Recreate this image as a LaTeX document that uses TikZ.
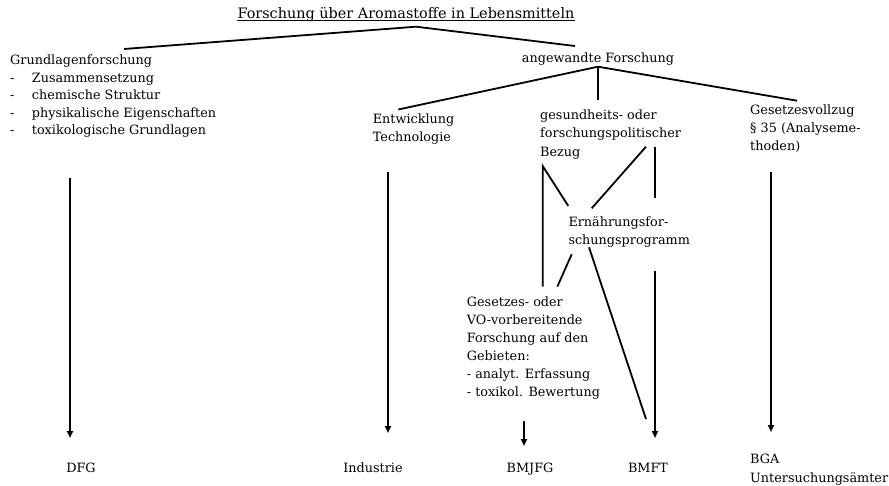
\documentclass[tikz,border=0pt]{standalone}
\usepackage{fontspec}
\setmainfont{DejaVu Serif}
\usetikzlibrary{arrows.meta,calc}
\begin{document}
\begin{tikzpicture}[x=1pt,y=-1pt,
  lbl/.style={anchor=base west,inner sep=0pt,align=left,font=\fontsize{12.8}{#1}\selectfont},
  lbl/.default=18,
  ctr/.style={anchor=base,inner sep=0pt,font=\fontsize{12.8}{18}\selectfont},
  conn/.style={line width=1.8pt},
  arr/.style={line width=1.8pt,-{Triangle[length=7pt,width=6pt]}}]
\useasboundingbox (0,0) rectangle (889,486);
% texts (multi-line nodes are placed at the baseline of their last line)
\node[ctr,font=\fontsize{14.4}{18}\selectfont] (title) at (406,18.3) {Forschung über Aromastoffe in Lebensmitteln};
\draw[line width=0.9pt] ($(title.base west)+(0,2.6)$) -- ($(title.base east)+(0,2.6)$);
\node[lbl=17.5] (grund) at (10,135) {Grundlagenforschung\\
  \makebox[21.7pt][l]{-}Zusammensetzung\\
  \makebox[21.7pt][l]{-}chemische Struktur\\
  \makebox[21.7pt][l]{-}physikalische Eigenschaften\\
  \makebox[21.7pt][l]{-}toxikologische Grundlagen};
\node[ctr] (angew) at (598,63) {angewandte Forschung};
\node[lbl] (entw) at (372.7,141.7) {Entwicklung\\Technologie};
\node[lbl=18.7] (gesund) at (540,156.7) {gesundheits- oder\\forschungspolitischer\\Bezug};
\node[lbl=18.3] (vollz) at (750,151) {Gesetzesvollzug\\§ 35 (Analyseme-\\thoden)};
\node[lbl=18.3] (ern) at (568.3,245) {Ernährungsfor-\\schungsprogramm};
\node[lbl] (vorb) at (466.7,396.7) {Gesetzes- oder\\VO-vorbereitende\\Forschung auf den\\Gebieten:\\- analyt. Erfassung\\- toxikol. Bewertung};
\node[ctr] (dfg) at (81,472.3) {DFG};
\node[ctr] (ind) at (373,472.3) {Industrie};
\node[ctr] (bmjfg) at (530,472.3) {BMJFG};
\node[ctr] (bmft) at (648,472.3) {BMFT};
\node[lbl=19.3] (bga) at (750,482.3) {BGA\\Untersuchungsämter};
% connector points
\coordinate (t0) at (416,26.7);
\coordinate (t1) at (124,49);
\coordinate (t2) at (575,46);
\coordinate (a0) at (598,66.7);
\coordinate (a1) at (398.3,109.5);
\coordinate (a2) at (598,100);
\coordinate (a3) at (797,100.7);
\coordinate (g0) at (542.7,166);
\coordinate (g1) at (542.7,286.7);
\coordinate (g2) at (568.3,206);
\coordinate (g3) at (646,146.7);
\coordinate (g4) at (591.7,208.3);
\coordinate (g5) at (655,146.7);
\coordinate (g6) at (655,198.3);
\coordinate (e0) at (571.7,254.3);
\coordinate (e1) at (557.3,286.7);
\coordinate (e2) at (589,247.3);
\coordinate (e3) at (646,419);
\coordinate (d0) at (70,178);
\coordinate (d1) at (70,438);
\coordinate (i0) at (388,172);
\coordinate (i1) at (388,433);
\coordinate (b0) at (524,421);
\coordinate (b1) at (524,446);
\coordinate (m0) at (655,271);
\coordinate (m1) at (655,438);
\coordinate (v0) at (771,172);
\coordinate (v1) at (771,432);
% connectors
\draw[conn] (t1) -- (t0) -- (t2);
\draw[conn] (a1) -- (a0) -- (a3);
\draw[conn] (a0) -- (a2);
\draw[conn] (g1) -- (g0) -- (g2);
\draw[conn] (g3) -- (g4);
\draw[conn] (g5) -- (g6);
\draw[conn] (e0) -- (e1);
\draw[conn] (e2) -- (e3);
\draw[arr] (d0) -- (d1);
\draw[arr] (i0) -- (i1);
\draw[arr] (b0) -- (b1);
\draw[arr] (m0) -- (m1);
\draw[arr] (v0) -- (v1);
\end{tikzpicture}
\end{document}
